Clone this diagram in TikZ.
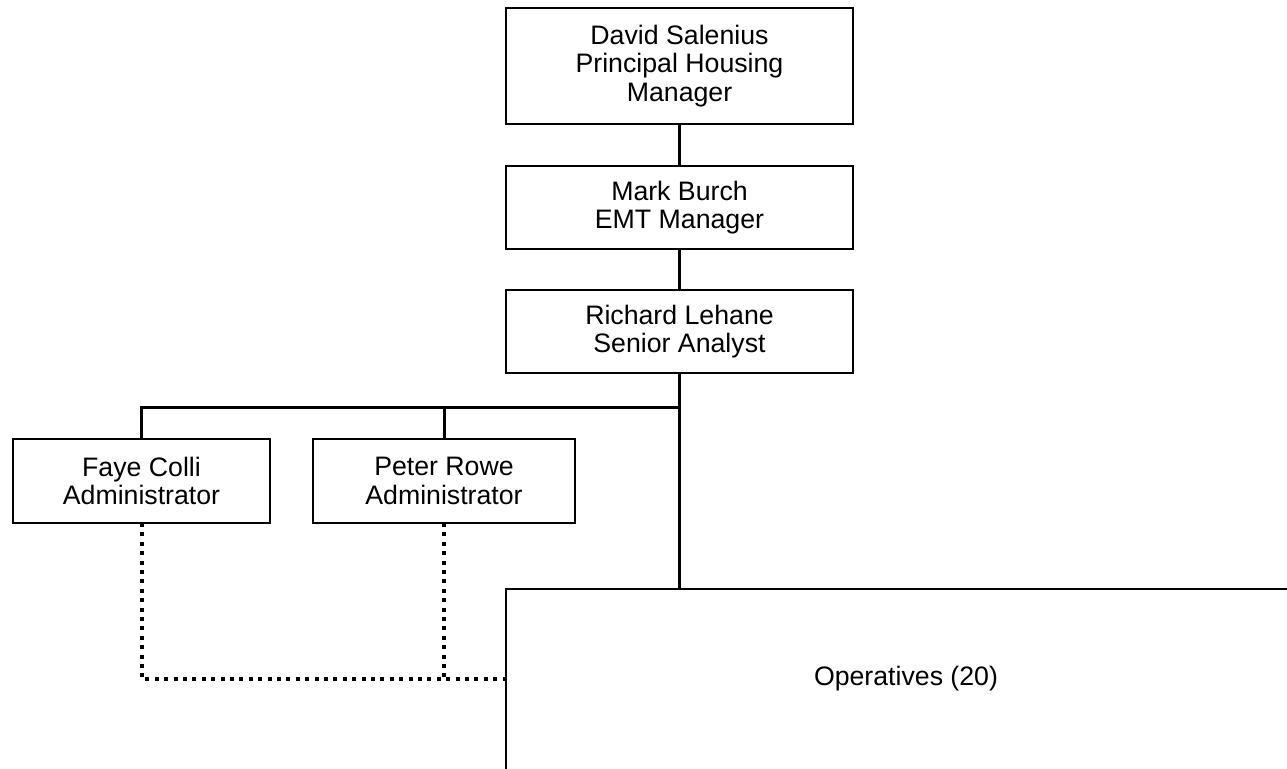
\documentclass[tikz,border=0pt]{standalone}
\usepackage{fontspec}
\setmainfont{Liberation Sans}
\begin{document}
\begin{tikzpicture}[x=1pt,y=-1pt,
  box/.style={draw, line width=2pt, align=center, inner sep=0pt, outer sep=0pt,
    font=\fontsize{26.7}{28.5}\selectfont},
  conn/.style={line width=3pt},
  dotline/.style={line width=4pt, dash pattern=on 4pt off 5.4pt}]
\useasboundingbox (0,0) rectangle (1287,768);
\clip (0,0) rectangle (1287,768);
\fill[white] (0,0) rectangle (1287,768);
\node[box, minimum width=347pt, minimum height=116pt] (david) at (679.5,66) {David Salenius\\Principal Housing\\Manager};
\node[box, minimum width=347pt, minimum height=83pt] (mark) at (679.5,207.5) {Mark Burch\\EMT Manager};
\node[box, minimum width=347pt, minimum height=83pt] (rich) at (679.5,331.5) {Richard Lehane\\Senior Analyst};
\node[box, minimum width=257pt, minimum height=84pt] (faye) at (141.5,481) {Faye Colli\\Administrator};
\node[box, minimum width=262pt, minimum height=84pt] (peter) at (444,481) {Peter Rowe\\Administrator};
\node[box, minimum width=800pt, minimum height=186pt] (ops) at (906,682) {};
\node[font=\fontsize{26.7}{28.5}\selectfont, inner sep=0pt] (opslabel) at (906,679) {Operatives (20)};
\coordinate (opsin) at (506,679);
\coordinate (busL) at (141.5,407);
\draw[conn] (david.south) -- (mark.north);
\draw[conn] (mark.south) -- (rich.north);
\draw[conn] (rich.south) -- (rich.south |- ops.north);
\draw[conn] (faye.north) -- (busL) -- (busL -| rich.south);
\draw[conn] (peter.north) -- (peter.north |- busL);
\draw[dotline] (faye.south) |- (opsin);
\draw[dotline] (peter.south) -- (peter.south |- opsin);
\end{tikzpicture}
\end{document}
